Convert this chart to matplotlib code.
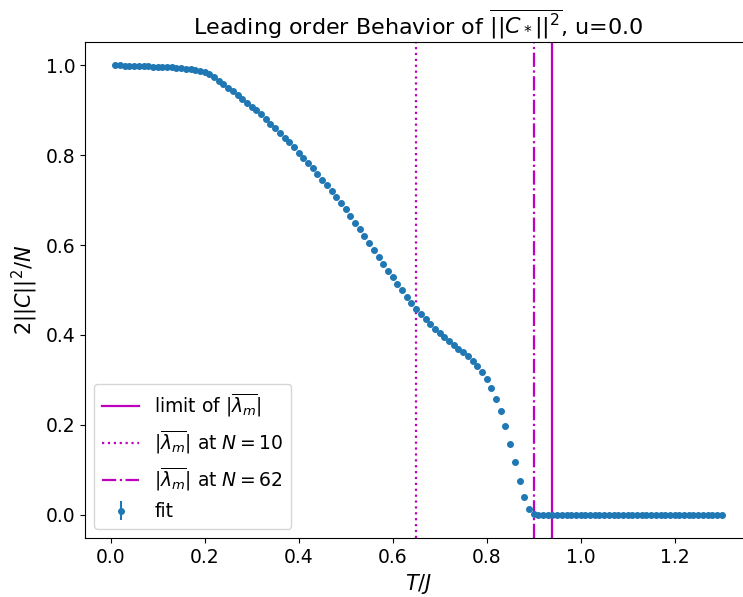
import matplotlib
matplotlib.use("Agg")
import matplotlib.pyplot as plt
import numpy as np

# temperatures T/J
T = np.round(np.arange(1, 131) * 0.01, 2)

# 2||C||^2/N
C2 = [
    1.000, 1.000, 0.999, 0.999, 0.999, 0.998, 0.998, 0.998, 0.997, 0.997,
    0.997, 0.996, 0.996, 0.995, 0.994, 0.993, 0.992, 0.990, 0.988, 0.985,
    0.980, 0.974, 0.966, 0.958, 0.950, 0.942, 0.934, 0.926, 0.917, 0.908,
    0.900, 0.891, 0.881, 0.870, 0.860, 0.850, 0.839, 0.829, 0.818, 0.806,
    0.795, 0.783, 0.771, 0.759, 0.746, 0.733, 0.721, 0.707, 0.694, 0.680,
    0.665, 0.650, 0.635, 0.620, 0.604, 0.588, 0.573, 0.558, 0.543, 0.528,
    0.513, 0.499, 0.485, 0.471, 0.458, 0.446, 0.435, 0.424, 0.414, 0.404,
    0.395, 0.386, 0.377, 0.369, 0.361, 0.352, 0.342, 0.331, 0.317, 0.301,
    0.282, 0.258, 0.230, 0.197, 0.158, 0.116, 0.074, 0.038, 0.013, 0.002,
    0.0, 0.0, 0.0, 0.0, 0.0, 0.0, 0.0, 0.0, 0.0, 0.0,
    0.0, 0.0, 0.0, 0.0, 0.0, 0.0, 0.0, 0.0, 0.0, 0.0,
    0.0, 0.0, 0.0, 0.0, 0.0, 0.0, 0.0, 0.0, 0.0, 0.0,
    0.0, 0.0, 0.0, 0.0, 0.0, 0.0, 0.0, 0.0, 0.0, 0.0,
]
C2_err = [0.002] * len(C2)

# positions of |lambda_m|
lam_limit = 0.94
lam_N10 = 0.65
lam_N62 = 0.90

fig = plt.figure(figsize=(7.43, 5.97), dpi=100)
ax = fig.add_axes([85 / 743, 59 / 597, 667 / 743, 496 / 597])

ax.errorbar(T, C2, yerr=C2_err, fmt='o', markersize=4, label='fit')
ax.axvline(lam_limit, color='m', linestyle='-', lw=1.6,
           label=r'limit of $|\overline{\lambda_m}|$')
ax.axvline(lam_N10, color='m', linestyle=':', lw=1.6,
           label=r'$|\overline{\lambda_m}|$ at $N=10$')
ax.axvline(lam_N62, color='m', linestyle='-.', lw=1.6,
           label=r'$|\overline{\lambda_m}|$ at $N=62$')

ax.spines['right'].set_visible(False)
ax.set_xticks([0.0, 0.2, 0.4, 0.6, 0.8, 1.0, 1.2])
ax.set_yticks([0.0, 0.2, 0.4, 0.6, 0.8, 1.0])
ax.tick_params(labelsize=13.5)
ax.set_xlabel(r'$T/J$', fontsize=15)
ax.set_ylabel(r'$2||C||^2/N$', fontsize=15)
ax.set_title(r'Leading order Behavior of $\overline{||C_*||^2}$, u=0.0', fontsize=16)
ax.legend(loc='lower left', fontsize=13.5)

fig.savefig('out.png', dpi=100)
